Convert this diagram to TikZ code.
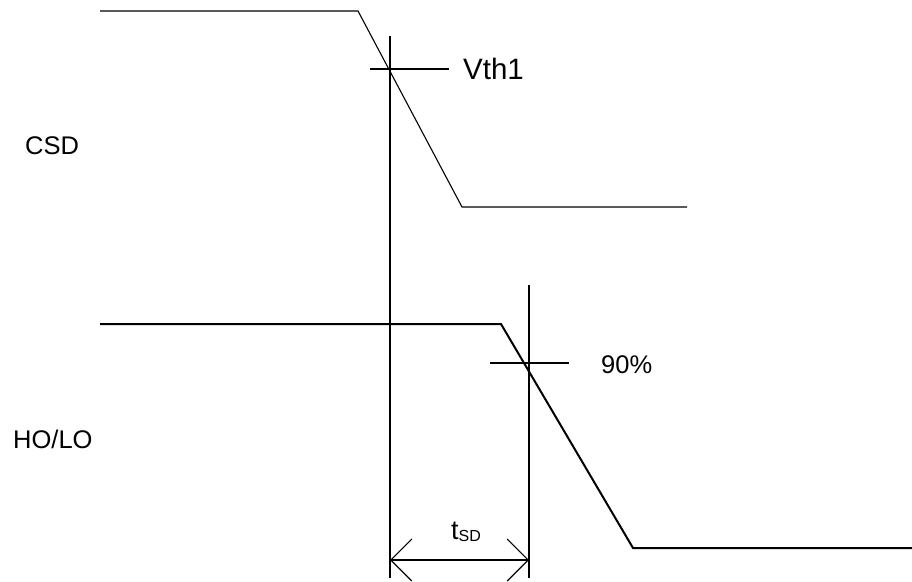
\documentclass[tikz,border=0pt]{standalone}
\usepackage{fontspec}
\setmainfont{Liberation Sans}
\usetikzlibrary{arrows.meta}
\begin{document}
\begin{tikzpicture}[x=1pt,y=-1pt,
  thinline/.style={line width=1.1pt},
  thickline/.style={line width=2pt},
  lbl/.style={inner sep=0pt,anchor=base west,font=\fontsize{25.5}{30}\selectfont},
  dimarrow/.style={line width=1.1pt,{Straight Barb[length=21pt,width=42pt,line width=1.1pt]}-{Straight Barb[length=21pt,width=42pt,line width=1.1pt]}}]
\useasboundingbox (0,0) rectangle (912,581);
% CSD waveform
\coordinate (c0) at (100,11);
\coordinate (c1) at (358,11);
\coordinate (c2) at (462,207);
\coordinate (c3) at (687,207);
\draw[thinline] (c0) -- (c1) -- (c2) -- (c3);
% HO/LO waveform
\coordinate (h0) at (100,324);
\coordinate (h1) at (501,324);
\coordinate (h2) at (633,548);
\coordinate (h3) at (912,548);
\draw[thickline] (h0) -- (h1) -- (h2) -- (h3);
% vertical markers
\coordinate (v1t) at (390,36);
\coordinate (v1b) at (390,578);
\coordinate (v2t) at (529,285);
\coordinate (v2b) at (529,578);
\draw[thinline] (v1t) -- (v1b);
\draw[thinline] (v2t) -- (v2b);
% horizontal ticks
\coordinate (t1a) at (370,69);
\coordinate (t1b) at (449,69);
\coordinate (t2a) at (490,363);
\coordinate (t2b) at (569,363);
\draw[thinline] (t1a) -- (t1b);
\draw[thinline] (t2a) -- (t2b);
% dimension arrow
\coordinate (a1) at (390,560);
\coordinate (a2) at (529,560);
\draw[dimarrow] (a1) -- (a2);
% labels
\node[lbl] (csd) at (25,154) {CSD};
\node[lbl] (holo) at (13,448) {HO/LO};
\node[lbl,font=\fontsize{29.5}{33}\selectfont] (vth) at (463,79) {Vth1};
\node[lbl] (p90) at (601,373) {90\%};
\node[lbl,font=\fontsize{27}{30}\selectfont] (tsd) at (451,539) {t\raisebox{-2pt}{\fontsize{16}{18}\selectfont SD}};
\end{tikzpicture}
\end{document}
